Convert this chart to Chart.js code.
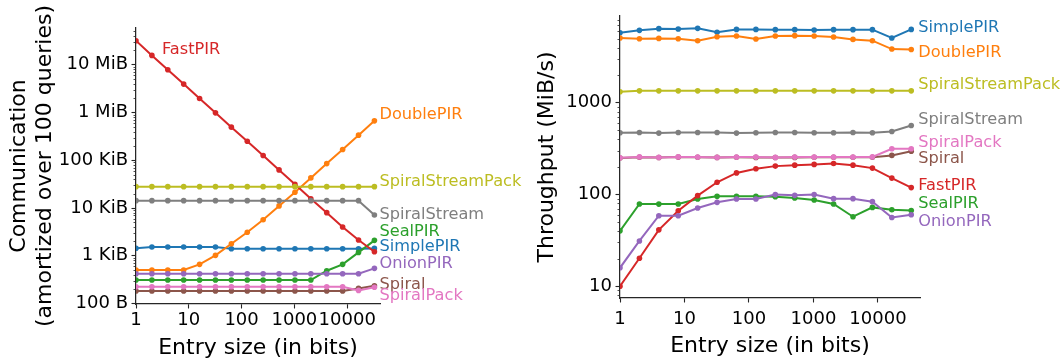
<!DOCTYPE html>
<html>
<head>
<meta charset="utf-8">
<script src="https://cdn.jsdelivr.net/npm/chart.js@4.4.1/dist/chart.umd.min.js"></script>
<style>
  html, body { margin: 0; padding: 0; background: #fff; }
  #wrap { position: relative; width: 1063px; height: 362px; overflow: hidden; }
  #comm { position: absolute; left: 0; top: 0; }
  #thru { position: absolute; left: 520px; top: 0; }
</style>
</head>
<body>
<div id="wrap">
  <canvas id="comm" width="540" height="362"></canvas>
  <canvas id="thru" width="543" height="362"></canvas>
</div>
<script>
// entry sizes (bits), same for both panels
const entryBits = [1, 2, 4, 8, 16, 32, 64, 128, 256, 512, 1024, 2048, 4096, 8192, 16384, 32768];
const schemes = ["SimplePIR", "DoublePIR", "SealPIR", "FastPIR", "OnionPIR", "Spiral", "SpiralPack", "SpiralStream", "SpiralStreamPack"];
const colors = ["#1f77b4", "#ff7f0e", "#2ca02c", "#d62728", "#9467bd", "#8c564b", "#e377c2", "#7f7f7f", "#bcbd22"];

// communication per query (bytes, amortized over 100 queries)
const commSimplePIR = [1440, 1530, 1530, 1530, 1530, 1530, 1410, 1410, 1410, 1410, 1410, 1410, 1410, 1410, 1410, 1430];
const commDoublePIR = [504, 504, 504, 504, 663, 1024, 1794, 3110, 5710, 11100, 21400, 42800, 85300, 168000, 336000, 670000];
const commSealPIR = [311, 311, 311, 311, 311, 311, 311, 311, 311, 311, 311, 311, 487, 663, 1180, 2110];
const commFastPIR = [31900000, 15700000, 7850000, 3940000, 1970000, 986000, 494000, 251000, 126000, 62900, 31500, 15700, 8010, 4020, 2140, 1220];
const commOnionPIR = [421, 421, 421, 421, 421, 421, 421, 421, 421, 421, 421, 421, 421, 421, 421, 547];
const commSpiral = [183, 183, 183, 183, 183, 183, 183, 183, 183, 183, 183, 183, 183, 183, 208, 236];
const commSpiralPack = [225, 225, 225, 225, 225, 225, 225, 225, 225, 225, 225, 225, 225, 225, 189, 219];
const commSpiralStream = [14300, 14300, 14300, 14300, 14300, 14300, 14300, 14300, 14300, 14300, 14300, 14300, 14300, 14300, 14300, 7170];
const commSpiralStreamPack = [28100, 28100, 28100, 28100, 28100, 28100, 28100, 28100, 28100, 28100, 28100, 28100, 28100, 28100, 28100, 28100];

// server throughput (MiB/s)
const thruSimplePIR = [5810, 6160, 6430, 6380, 6480, 5860, 6310, 6310, 6270, 6270, 6220, 6270, 6270, 6270, 5080, 6310];
const thruDoublePIR = [5080, 4990, 5030, 4990, 4750, 5250, 5350, 4960, 5350, 5390, 5350, 5210, 4910, 4750, 3850, 3810];
const thruSealPIR = [40.2, 78.9, 78.6, 78.9, 89.5, 95.5, 95.5, 95.5, 94.8, 91.8, 87.3, 78.9, 57.3, 72.4, 68.3, 67.1];
const thruFastPIR = [10.0, 20.2, 41.2, 66.6, 97.3, 136, 172, 191, 204, 209, 213, 218, 209, 194, 151, 119];
const thruOnionPIR = [15.9, 31.2, 58.8, 58.8, 71.3, 82.2, 89.5, 89.5, 99.8, 98, 99.8, 90.2, 90.2, 83.6, 56.2, 60.2];
const thruSpiral = [250, 255, 253, 256, 255, 254, 255, 254, 253, 254, 255, 255, 255, 255, 267, 297];
const thruSpiralPack = [251, 257, 254, 257, 256, 254, 256, 256, 254, 256, 256, 256, 256, 257, 315, 315];
const thruSpiralStream = [471, 475, 467, 475, 475, 475, 467, 471, 475, 475, 471, 471, 475, 471, 487, 566];
const thruSpiralStreamPack = [1320, 1350, 1350, 1350, 1350, 1350, 1350, 1350, 1350, 1350, 1350, 1350, 1350, 1350, 1350, 1350];

// axis ticks
const xTicks = [1, 10, 100, 1000, 10000];
const commTicks = [100, 1000, 10000, 100000, 1000000, 10000000];
const commTickLabels = ["100 B", "1 KiB", "10 KiB", "100 KiB", "1 MiB", "10 MiB"];
const thruTicks = [10, 100, 1000];
const thruTickLabels = ["10", "100", "1000"];

// where the series names sit (data coords)
const commLabelX = [32768, 32768, 32768, 2.5, 32768, 32768, 32768, 32768, 32768];
const commLabelY = [1530, 896000, 3150, 20700000, 673, 244, 144, 7160, 35200];
const thruLabelX = [32768, 32768, 32768, 32768, 32768, 32768, 32768, 32768, 32768];
const thruLabelY = [6530, 3480, 78.5, 123, 49.9, 243, 363, 648, 1560];

const commSeries = [commSimplePIR, commDoublePIR, commSealPIR, commFastPIR, commOnionPIR, commSpiral, commSpiralPack, commSpiralStream, commSpiralStreamPack];
const thruSeries = [thruSimplePIR, thruDoublePIR, thruSealPIR, thruFastPIR, thruOnionPIR, thruSpiral, thruSpiralPack, thruSpiralStream, thruSpiralStreamPack];

const FONT = "'DejaVu Sans', 'Liberation Sans', sans-serif";
const INK = "#262626";

Chart.defaults.font.family = FONT;
Chart.defaults.color = "#000";

// short log ticks on the y axis, like matplotlib minor ticks
const minorTicks = {
  id: "minorTicks",
  afterDraw(chart) {
    const y = chart.scales.y, ctx = chart.ctx;
    ctx.save();
    ctx.strokeStyle = INK;
    ctx.lineWidth = 0.8;
    const e0 = Math.floor(Math.log10(y.min)), e1 = Math.ceil(Math.log10(y.max));
    for (let e = e0; e <= e1; e++) {
      for (let m = 2; m <= 9; m++) {
        const v = m * Math.pow(10, e);
        if (v < y.min || v > y.max) continue;
        const p = Math.round(y.getPixelForValue(v)) + 0.5;
        ctx.beginPath();
        ctx.moveTo(y.right, p);
        ctx.lineTo(y.right - 2.5, p);
        ctx.stroke();
      }
    }
    ctx.restore();
  }
};

// series names written next to the lines
const lineLabels = {
  id: "lineLabels",
  afterDatasetsDraw(chart, args, opts) {
    const { x, y } = chart.scales, ctx = chart.ctx;
    ctx.save();
    ctx.font = "16.2px " + FONT;
    ctx.textBaseline = "middle";
    ctx.textAlign = "left";
    schemes.forEach((name, i) => {
      ctx.fillStyle = colors[i];
      ctx.fillText(name, x.getPixelForValue(opts.xs[i]) + opts.gap, y.getPixelForValue(opts.ys[i]));
    });
    ctx.restore();
  }
};

function makeChart(canvasId, series, c) {
  return new Chart(document.getElementById(canvasId), {
    type: "line",
    data: {
      labels: entryBits,
      datasets: series.map((vals, i) => ({
        label: schemes[i],
        data: entryBits.map((b, k) => ({ x: b, y: vals[k] })),
        borderColor: colors[i],
        backgroundColor: colors[i],
        borderWidth: 2,
        pointRadius: 2.8,
        pointBorderWidth: 0,
        tension: 0,
        order: -i
      }))
    },
    options: {
      responsive: false,
      animation: false,
      devicePixelRatio: 1,
      layout: { padding: { top: c.top, right: c.right, left: 0, bottom: 0 } },
      plugins: {
        legend: { display: false },
        tooltip: { enabled: false },
        lineLabels: { xs: c.labelX, ys: c.labelY, gap: c.gap }
      },
      scales: {
        x: {
          type: "logarithmic",
          min: 1,
          max: c.xMax,
          afterBuildTicks: s => { s.ticks = xTicks.map(v => ({ value: v })); },
          afterFit: s => { s.height = c.xHeight; },
          ticks: { font: { size: 18 }, color: "#000", padding: c.xTickPad, maxRotation: 0, autoSkip: false,
                   callback: v => String(v) },
          grid: { display: true, drawOnChartArea: false, tickLength: 4.5, tickColor: INK, tickWidth: 1.1 },
          border: { display: true, color: INK, width: 1.25 },
          title: { display: true, text: "Entry size (in bits)", color: "#000",
                   font: { size: 22, lineHeight: 1.2 }, padding: { top: 0, bottom: c.xTitlePad } }
        },
        y: {
          type: "logarithmic",
          min: c.yMin,
          max: c.yMax,
          afterBuildTicks: s => { s.ticks = c.yTicks.map(v => ({ value: v })); },
          afterFit: s => { s.width = c.yWidth; },
          ticks: { font: { size: 18 }, color: "#000", padding: 3.5, autoSkip: false,
                   callback: v => c.yTickLabels[c.yTicks.indexOf(v)] },
          grid: { display: true, drawOnChartArea: false, tickLength: 4.5, tickColor: INK, tickWidth: 1.1 },
          border: { display: true, color: INK, width: 1.25 },
          title: { display: true, text: c.yTitle, color: "#000",
                   font: { size: 22, lineHeight: 1.15 }, padding: { top: c.yTitlePad, bottom: 0 } }
        }
      }
    },
    plugins: [minorTicks, lineLabels]
  });
}

makeChart("comm", commSeries, {
  top: 28, right: 160, xMax: 41800, yMin: 98, yMax: 58900000,
  xHeight: 58, yWidth: 136, xTickPad: 1, xTitlePad: 1, yTitlePad: 7,
  yTicks: commTicks, yTickLabels: commTickLabels,
  yTitle: ["Communication", "(amortized over 100 queries)"],
  labelX: commLabelX, labelY: commLabelY, gap: 5
});

makeChart("thru", thruSeries, {
  top: 16, right: 143, xMax: 44800, yMin: 7.45, yMax: 8830,
  xHeight: 64, yWidth: 100, xTickPad: 6, xTitlePad: 3, yTitlePad: 15,
  yTicks: thruTicks, yTickLabels: thruTickLabels,
  yTitle: "Throughput (MiB/s)",
  labelX: thruLabelX, labelY: thruLabelY, gap: 7
});
</script>
</body>
</html>
